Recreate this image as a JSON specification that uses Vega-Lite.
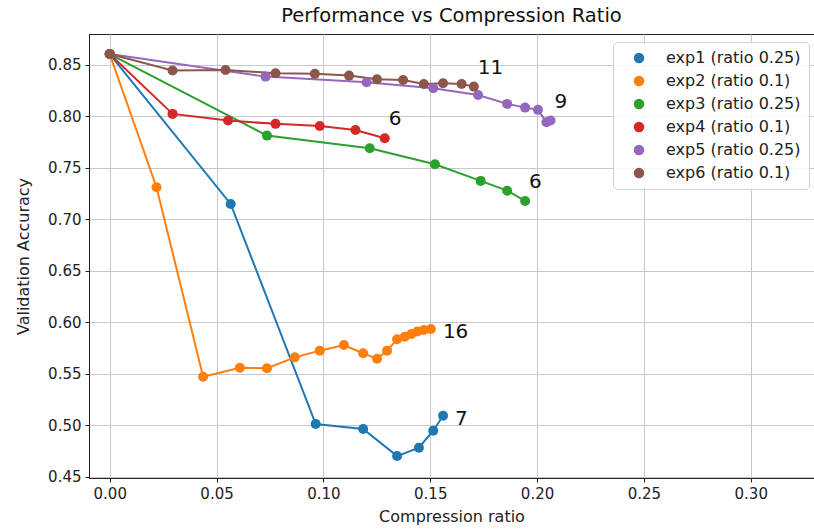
{
  "$schema": "https://vega.github.io/schema/vega-lite/v6.json",
  "width": 725,
  "height": 444,
  "autosize": {"type": "none"},
  "padding": {"left": 89, "top": 34, "right": 0, "bottom": 53},
  "background": "white",
  "title": {"text": "Performance vs Compression Ratio", "fontSize": 19.5, "font": "DejaVu Sans", "fontWeight": "normal", "color": "#111", "offset": 8},
  "config": {
    "font": "DejaVu Sans",
    "view": {"stroke": "#222", "strokeWidth": 1},
    "axis": {"labelFont": "DejaVu Sans", "titleFont": "DejaVu Sans", "labelFontSize": 15, "titleFontSize": 16, "titleFontWeight": "normal", "labelColor": "#222", "titleColor": "#222", "domainColor": "#222", "tickColor": "#222", "tickSize": 4, "gridColor": "#c8c8c8", "gridWidth": 1},
    "legend": {"labelFont": "DejaVu Sans"}
  },
  "data": {"values": [
    {"exp": "exp1 (ratio 0.25)", "step": 0, "x": 0, "y": 0.8605},
    {"exp": "exp1 (ratio 0.25)", "step": 1, "x": 0.0566, "y": 0.7149},
    {"exp": "exp1 (ratio 0.25)", "step": 2, "x": 0.0964, "y": 0.5011},
    {"exp": "exp1 (ratio 0.25)", "step": 3, "x": 0.1186, "y": 0.4963},
    {"exp": "exp1 (ratio 0.25)", "step": 4, "x": 0.1345, "y": 0.470},
    {"exp": "exp1 (ratio 0.25)", "step": 5, "x": 0.1447, "y": 0.4781},
    {"exp": "exp1 (ratio 0.25)", "step": 6, "x": 0.1514, "y": 0.4946},
    {"exp": "exp1 (ratio 0.25)", "step": 7, "x": 0.156, "y": 0.5092},
    {"exp": "exp2 (ratio 0.1)", "step": 0, "x": 0, "y": 0.8605},
    {"exp": "exp2 (ratio 0.1)", "step": 1, "x": 0.0219, "y": 0.7311},
    {"exp": "exp2 (ratio 0.1)", "step": 2, "x": 0.0437, "y": 0.5471},
    {"exp": "exp2 (ratio 0.1)", "step": 3, "x": 0.0609, "y": 0.5558},
    {"exp": "exp2 (ratio 0.1)", "step": 4, "x": 0.0736, "y": 0.5553},
    {"exp": "exp2 (ratio 0.1)", "step": 5, "x": 0.0866, "y": 0.5659},
    {"exp": "exp2 (ratio 0.1)", "step": 6, "x": 0.0983, "y": 0.5724},
    {"exp": "exp2 (ratio 0.1)", "step": 7, "x": 0.1096, "y": 0.5779},
    {"exp": "exp2 (ratio 0.1)", "step": 8, "x": 0.1186, "y": 0.5698},
    {"exp": "exp2 (ratio 0.1)", "step": 9, "x": 0.1251, "y": 0.5646},
    {"exp": "exp2 (ratio 0.1)", "step": 10, "x": 0.1298, "y": 0.5724},
    {"exp": "exp2 (ratio 0.1)", "step": 11, "x": 0.1345, "y": 0.5834},
    {"exp": "exp2 (ratio 0.1)", "step": 12, "x": 0.1381, "y": 0.5860},
    {"exp": "exp2 (ratio 0.1)", "step": 13, "x": 0.1412, "y": 0.5886},
    {"exp": "exp2 (ratio 0.1)", "step": 14, "x": 0.1440, "y": 0.5910},
    {"exp": "exp2 (ratio 0.1)", "step": 15, "x": 0.1470, "y": 0.5925},
    {"exp": "exp2 (ratio 0.1)", "step": 16, "x": 0.1503, "y": 0.5935},
    {"exp": "exp3 (ratio 0.25)", "step": 0, "x": 0, "y": 0.8605},
    {"exp": "exp3 (ratio 0.25)", "step": 1, "x": 0.0736, "y": 0.7813},
    {"exp": "exp3 (ratio 0.25)", "step": 2, "x": 0.1217, "y": 0.7691},
    {"exp": "exp3 (ratio 0.25)", "step": 3, "x": 0.1522, "y": 0.7535},
    {"exp": "exp3 (ratio 0.25)", "step": 4, "x": 0.1736, "y": 0.7373},
    {"exp": "exp3 (ratio 0.25)", "step": 5, "x": 0.186, "y": 0.7278},
    {"exp": "exp3 (ratio 0.25)", "step": 6, "x": 0.1944, "y": 0.7178},
    {"exp": "exp4 (ratio 0.1)", "step": 0, "x": 0, "y": 0.8605},
    {"exp": "exp4 (ratio 0.1)", "step": 1, "x": 0.0294, "y": 0.8024},
    {"exp": "exp4 (ratio 0.1)", "step": 2, "x": 0.0554, "y": 0.7959},
    {"exp": "exp4 (ratio 0.1)", "step": 3, "x": 0.0776, "y": 0.7927},
    {"exp": "exp4 (ratio 0.1)", "step": 4, "x": 0.0983, "y": 0.7907},
    {"exp": "exp4 (ratio 0.1)", "step": 5, "x": 0.115, "y": 0.7868},
    {"exp": "exp4 (ratio 0.1)", "step": 6, "x": 0.1287, "y": 0.7788},
    {"exp": "exp5 (ratio 0.25)", "step": 0, "x": 0, "y": 0.8605},
    {"exp": "exp5 (ratio 0.25)", "step": 1, "x": 0.0729, "y": 0.8386},
    {"exp": "exp5 (ratio 0.25)", "step": 2, "x": 0.1202, "y": 0.8332},
    {"exp": "exp5 (ratio 0.25)", "step": 3, "x": 0.1514, "y": 0.8274},
    {"exp": "exp5 (ratio 0.25)", "step": 4, "x": 0.1724, "y": 0.8208},
    {"exp": "exp5 (ratio 0.25)", "step": 5, "x": 0.186, "y": 0.8121},
    {"exp": "exp5 (ratio 0.25)", "step": 6, "x": 0.1944, "y": 0.8085},
    {"exp": "exp5 (ratio 0.25)", "step": 7, "x": 0.2004, "y": 0.8063},
    {"exp": "exp5 (ratio 0.25)", "step": 8, "x": 0.2044, "y": 0.7943},
    {"exp": "exp5 (ratio 0.25)", "step": 9, "x": 0.2063, "y": 0.7959},
    {"exp": "exp6 (ratio 0.1)", "step": 0, "x": 0, "y": 0.8605},
    {"exp": "exp6 (ratio 0.1)", "step": 1, "x": 0.0294, "y": 0.8445},
    {"exp": "exp6 (ratio 0.1)", "step": 2, "x": 0.0542, "y": 0.8451},
    {"exp": "exp6 (ratio 0.1)", "step": 3, "x": 0.0776, "y": 0.8419},
    {"exp": "exp6 (ratio 0.1)", "step": 4, "x": 0.096, "y": 0.8413},
    {"exp": "exp6 (ratio 0.1)", "step": 5, "x": 0.112, "y": 0.8396},
    {"exp": "exp6 (ratio 0.1)", "step": 6, "x": 0.1251, "y": 0.8361},
    {"exp": "exp6 (ratio 0.1)", "step": 7, "x": 0.1373, "y": 0.8354},
    {"exp": "exp6 (ratio 0.1)", "step": 8, "x": 0.147, "y": 0.8315},
    {"exp": "exp6 (ratio 0.1)", "step": 9, "x": 0.156, "y": 0.8322},
    {"exp": "exp6 (ratio 0.1)", "step": 10, "x": 0.1647, "y": 0.8315},
    {"exp": "exp6 (ratio 0.1)", "step": 11, "x": 0.1704, "y": 0.8289}
  ]},
  "encoding": {
    "x": {"field": "x", "type": "quantitative", "scale": {"domain": [-0.0097, 0.3296], "nice": false, "zero": false},
      "axis": {"values": [0, 0.05, 0.1, 0.15, 0.2, 0.25, 0.3], "format": ".2f", "title": "Compression ratio", "labelPadding": 4, "titlePadding": 7}},
    "y": {"field": "y", "type": "quantitative", "scale": {"domain": [0.4487, 0.880], "nice": false, "zero": false},
      "axis": {"values": [0.45, 0.5, 0.55, 0.6, 0.65, 0.7, 0.75, 0.8, 0.85], "format": ".2f", "title": "Validation Accuracy", "labelPadding": 4, "titlePadding": 16}},
    "color": {"field": "exp", "type": "nominal",
      "scale": {"domain": ["exp1 (ratio 0.25)", "exp2 (ratio 0.1)", "exp3 (ratio 0.25)", "exp4 (ratio 0.1)", "exp5 (ratio 0.25)", "exp6 (ratio 0.1)"],
                "range": ["#1f77b4", "#ff7f0e", "#2ca02c", "#d62728", "#9467bd", "#8c564b"]},
      "legend": {"title": null, "orient": "none", "legendX": 524, "legendY": 8, "symbolType": "circle", "symbolSize": 110, "symbolOpacity": 1, "labelFontSize": 16, "labelColor": "#222", "rowPadding": 7, "padding": 8, "symbolOffset": 10, "labelOffset": 19, "strokeColor": "#d0d0d0", "cornerRadius": 4, "fillColor": "rgba(255,255,255,0.85)", "symbolStrokeWidth": 0}}
  },
  "layer": [
    {"mark": {"type": "line", "strokeWidth": 2}, "encoding": {"order": {"field": "step", "type": "quantitative"}, "detail": {"field": "exp"}}},
    {"mark": {"type": "point", "filled": true, "size": 100, "opacity": 1}},
    {"transform": [
      {"joinaggregate": [{"op": "max", "field": "step", "as": "maxstep"}], "groupby": ["exp"]},
      {"filter": "datum.step == datum.maxstep"},
      {"filter": {"field": "exp", "oneOf": ["exp1 (ratio 0.25)", "exp2 (ratio 0.1)"]}}
    ],
      "mark": {"type": "text", "align": "left", "baseline": "middle", "dx": 12, "dy": 3, "fontSize": 20, "color": "#111"},
      "encoding": {"text": {"field": "step", "type": "quantitative"}, "color": {"value": "#111"}}},
    {"transform": [
      {"joinaggregate": [{"op": "max", "field": "step", "as": "maxstep"}], "groupby": ["exp"]},
      {"filter": "datum.step == datum.maxstep"},
      {"filter": {"not": {"field": "exp", "oneOf": ["exp1 (ratio 0.25)", "exp2 (ratio 0.1)"]}}}
    ],
      "mark": {"type": "text", "align": "left", "baseline": "middle", "dx": 4, "dy": -19, "fontSize": 20, "color": "#111"},
      "encoding": {"text": {"field": "step", "type": "quantitative"}, "color": {"value": "#111"}}}
  ]
}
